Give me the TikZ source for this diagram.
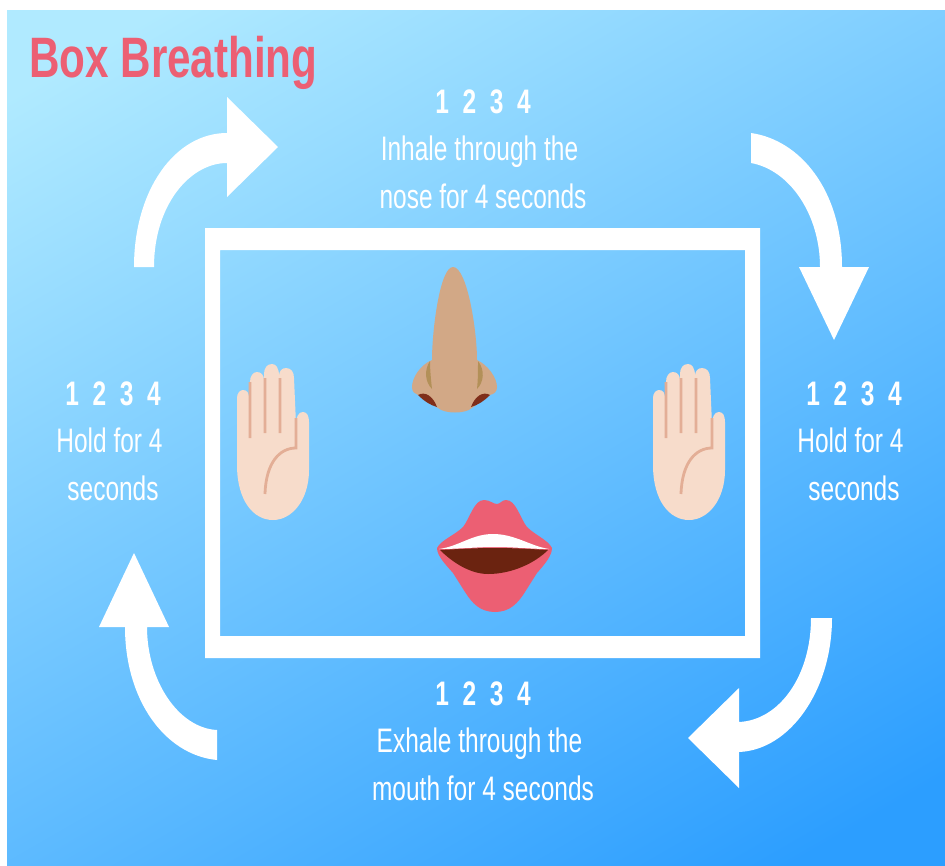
\documentclass[tikz,border=0pt]{standalone}
\usepackage{fontspec}
\usepackage{xcolor}
\usepackage{tikz}
\usetikzlibrary{positioning}
\newfontfamily\labelfont[FakeStretch=0.72]{Liberation Sans}
\newfontfamily\countfont[FakeStretch=0.721,WordSpace=2]{Liberation Sans}
\newfontfamily\titlefont[FakeStretch=0.74]{Liberation Sans}
\definecolor{skytop}{HTML}{B0EAFF}
\definecolor{skybot}{HTML}{2C9EFF}
\definecolor{lipcol}{HTML}{EC5F73}
\definecolor{gumcol}{HTML}{6B2310}
\definecolor{nosecol}{HTML}{D2A886}
\definecolor{foldcol}{HTML}{B39058}
\definecolor{holecol}{HTML}{7F2E1A}
\definecolor{palmcol}{HTML}{F7DCCB}
\definecolor{linecol}{HTML}{E3AE96}
\pgfdeclareverticalshading{skyshade}{100bp}{color(0bp)=(skybot); color(20bp)=(skybot); color(80bp)=(skytop); color(100bp)=(skytop)}

\begin{document}
\begin{tikzpicture}[x=1pt,y=-1pt]
    % Styles:
    \tikzset{count/.style={text=white, inner sep=0pt, text height=26pt, text depth=7pt, font={\countfont\bfseries\fontsize{34}{34}\selectfont}}}
    \tikzset{lbl/.style={text=white, inner sep=0pt, text height=26pt, text depth=7pt, font={\labelfont\fontsize{34}{34}\selectfont}}}
    \tikzset{node distance = 14pt}
    \tikzset{palm/.pic={
        \fill[palmcol] (17,115) -- (17,48) .. controls (17,43) and (20,40) .. (23,40)
            .. controls (27,40) and (29,43) .. (29,48)
            -- (30,32) .. controls (30,26) and (33,22) .. (37,22)
            .. controls (41,22) and (44,25) .. (44,30)
            -- (44,24) .. controls (44,18) and (47,14) .. (52,14)
            .. controls (56,14) and (59,18) .. (59,26)
            .. controls (59,21) and (62,18) .. (66,18)
            .. controls (71,18) and (74,22) .. (74,28)
            -- (76,74) .. controls (76,66) and (79,62) .. (83,62)
            .. controls (87,62) and (89,66) .. (89,72)
            -- (89,120) .. controls (89,150) and (72,170) .. (53,170)
            .. controls (33,170) and (17,150) .. (17,115) -- cycle;
        \draw[linecol, line width=2.8pt]
            (30,32) -- (30,88) (45,28) -- (45,83) (60,28) -- (60,83)
            (76,68) -- (76,98) .. controls (60,98) and (46,112) .. (45,144);
    }}

    % Background:
    \fill[white] (0,0) rectangle (945,865);
    \shade[shading=skyshade, shading angle=30] (7,10) rectangle (945,865);
    \useasboundingbox (0,0) rectangle (945,865);

    % Frame:
    \fill[white, even odd rule] (205,228) rectangle (760,658) (220,250) rectangle (745,636);

    % Arrows:
    \fill[white] (134,267) .. controls (134,190) and (175,133) .. (227,133) -- (227,97) -- (278,147) -- (227,197) -- (227,163)
        .. controls (190,163) and (154,205) .. (154,267) -- cycle;
    \fill[white] (751,133) .. controls (800,140) and (842,190) .. (842,267) -- (869,267) -- (834,340) -- (799,267) -- (820,267)
        .. controls (820,215) and (790,170) .. (751,163) -- cycle;
    \fill[white] (832,618) .. controls (832,690) and (790,750) .. (739,752) -- (739,788) -- (688,738) -- (739,688) -- (739,722)
        .. controls (780,720) and (811,675) .. (811,618) -- cycle;
    \fill[white] (217,760) .. controls (165,755) and (125,700) .. (125,627) -- (99,627) -- (134,553) -- (169,627) -- (147,627)
        .. controls (147,680) and (178,728) .. (217,730) -- cycle;

    % Nose:
    \fill[nosecol] (453,267) .. controls (440,267) and (432,330) .. (432,360)
        .. controls (420,365) and (412,378) .. (412,387) .. controls (412,392) and (415,394) .. (418,395)
        -- (438,408) .. controls (445,414) and (465,414) .. (472,408) -- (490,395)
        .. controls (494,394) and (497,392) .. (497,387) .. controls (497,378) and (488,365) .. (477,360)
        .. controls (477,330) and (467,267) .. (453,267) -- cycle;
    \fill[foldcol] (430,361) .. controls (424,370) and (425,382) .. (432,389) .. controls (431,380) and (430,370) .. (430,361) -- cycle;
    \fill[foldcol] (478,361) .. controls (485,370) and (484,382) .. (477,389) .. controls (478,380) and (478,370) .. (478,361) -- cycle;
    \fill[holecol] (418,395) .. controls (425,391) and (433,396) .. (437,407) .. controls (430,405) and (424,401) .. (418,395) -- cycle;
    \fill[holecol] (490,395) .. controls (483,391) and (475,396) .. (471,407) .. controls (478,405) and (484,401) .. (490,395) -- cycle;

    % Hands:
    \pic (lefthand) at (220,350) {palm};
    \pic (righthand) at (636,350) {palm};

    % Lips:
    \fill[lipcol] (437,548) .. controls (441,540) and (455,535) .. (463,527)
        .. controls (470,518) and (474,500) .. (484,500) .. controls (490,500) and (493,504) .. (497,504)
        .. controls (500,504) and (502,500) .. (506,500) .. controls (516,500) and (520,518) .. (527,527)
        .. controls (535,535) and (548,540) .. (552,548) .. controls (552,556) and (544,565) .. (537,573)
        -- (525,592) .. controls (518,603) and (510,612) .. (495,612) .. controls (480,612) and (472,603) .. (465,592)
        -- (453,573) .. controls (446,565) and (437,556) .. (437,548) -- cycle;
    \fill[white] (439,549) .. controls (460,546) and (472,534) .. (493,534)
        .. controls (515,534) and (530,546) .. (549,549) .. controls (530,549) and (515,547) .. (495,547)
        .. controls (475,547) and (460,549) .. (439,549) -- cycle;
    \fill[gumcol] (440,550) .. controls (460,549) and (475,548) .. (495,548)
        .. controls (515,548) and (530,549) .. (548,550) .. controls (535,563) and (512,574) .. (488,574)
        .. controls (470,574) and (452,562) .. (440,550) -- cycle;

    % Title:
    \node[inner sep=0pt, anchor=base west, text=lipcol, font={\titlefont\bfseries\fontsize{57}{57}\selectfont}] (title) at (29,77) {Box Breathing};

    % Top nodes:
    \node[count] (ctop) at (483,104) {1 2 3 4};
    \node[lbl] (inha) [below = of ctop, xshift=-3.5pt] {Inhale through the};
    \node[lbl] (inhb) [below = of ctop, yshift=-48pt] {nose for 4 seconds};

    % Right nodes:
    \node[count] (crig) at (854,396) {1 2 3 4};
    \node[lbl] (hrga) [below = of crig, xshift=-3.5pt] {Hold for 4};
    \node[lbl] (hrgb) [below = of crig, yshift=-48pt] {seconds};

    % Bottom nodes:
    \node[count] (cbot) at (483,696) {1 2 3 4};
    \node[lbl] (exha) [below = of cbot, xshift=-3.5pt] {Exhale through the};
    \node[lbl] (exhb) [below = of cbot, yshift=-48pt] {mouth for 4 seconds};

    % Left nodes:
    \node[count] (clef) at (113,396) {1 2 3 4};
    \node[lbl] (hlfa) [below = of clef, xshift=-3.5pt] {Hold for 4};
    \node[lbl] (hlfb) [below = of clef, yshift=-48pt] {seconds};
\end{tikzpicture}
\end{document}
